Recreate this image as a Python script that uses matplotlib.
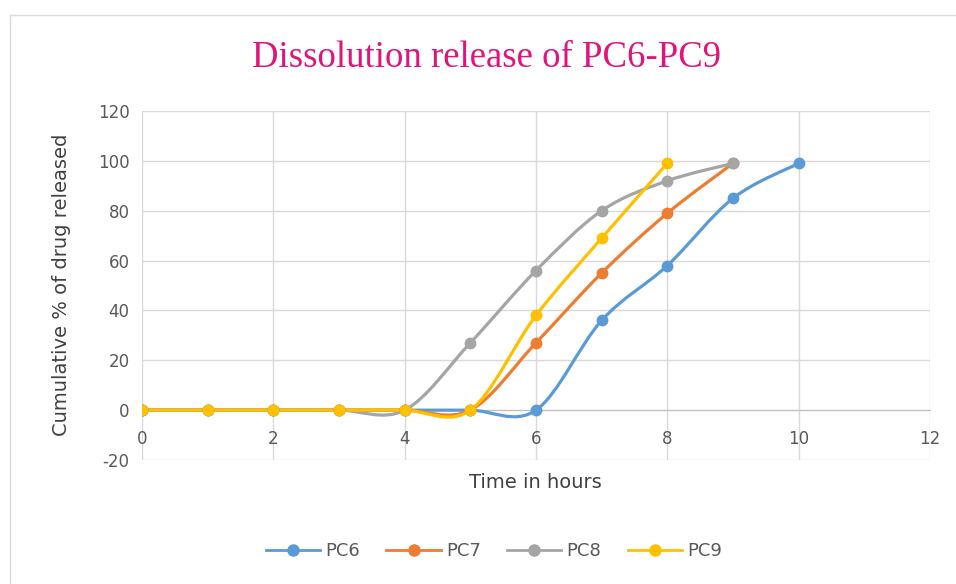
import numpy as np
import matplotlib.pyplot as plt
import matplotlib
from matplotlib.path import Path
from matplotlib.patches import PathPatch, Rectangle
from matplotlib.lines import Line2D

plt.rcParams["axes.unicode_minus"] = False

# hours and cumulative release
hours_pc6 = [0, 1, 2, 3, 4, 5, 6, 7, 8, 9, 10]
pc6 = [0, 0, 0, 0, 0, 0, 0, 36, 58, 85, 99]
hours_pc7 = [0, 1, 2, 3, 4, 5, 6, 7, 8, 9]
pc7 = [0, 0, 0, 0, 0, 0, 27, 55, 79, 99]
hours_pc8 = [0, 1, 2, 3, 4, 5, 6, 7, 8, 9]
pc8 = [0, 0, 0, 0, 0, 27, 56, 80, 92, 99]
hours_pc9 = [0, 1, 2, 3, 4, 5, 6, 7, 8]
pc9 = [0, 0, 0, 0, 0, 0, 38, 69, 99]

names = ["PC6", "PC7", "PC8", "PC9"]
colors = ["#5B9BD5", "#ED7D31", "#A5A5A5", "#FFC000"]
x_ticks = [0, 2, 4, 6, 8, 10, 12]
y_ticks = [-20, 0, 20, 40, 60, 80, 100, 120]


def smooth_path(xs, ys):
    # excel style smoothed line: bezier segments with 1/6 tangents
    p = np.column_stack([xs, ys]).astype(float)
    p = np.vstack([p[0], p, p[-1]])
    verts = [p[1]]
    codes = [Path.MOVETO]
    for i in range(1, len(p) - 2):
        c1 = p[i] + (p[i + 1] - p[i - 1]) / 6
        c2 = p[i + 1] - (p[i + 2] - p[i]) / 6
        verts += [c1, c2, p[i + 1]]
        codes += [Path.CURVE4] * 3
    return Path(verts, codes)


fig = plt.figure(figsize=(9.56, 5.84), dpi=100)
fig.patches.append(Rectangle((10 / 956, -0.1), 1.1, 1 - 15 / 584 + 0.1,
                             transform=fig.transFigure, fill=False,
                             edgecolor="#d9d9d9", lw=1))
ax = fig.add_axes([142 / 956, 1 - 460 / 584, 788 / 956, 349 / 584])

series = [(hours_pc6, pc6), (hours_pc7, pc7), (hours_pc8, pc8), (hours_pc9, pc9)]
for (xs, ys), c in zip(series, colors):
    ax.add_patch(PathPatch(smooth_path(xs, ys), facecolor="none", edgecolor=c,
                           lw=2.3, zorder=3, capstyle="round"))
    ax.plot(xs, ys, ls="none", marker="o", ms=7.5, color=c, zorder=4)

ax.set_xlim(0, 12)
ax.set_ylim(-20, 120)
ax.set_xticks(x_ticks)
ax.set_yticks(y_ticks)
ax.grid(True, color="#d9d9d9", lw=1)
ax.set_axisbelow(True)
for s in ["top", "right", "left"]:
    ax.spines[s].set_visible(False)
ax.spines["bottom"].set_position(("data", 0))
ax.spines["bottom"].set_color("#bfbfbf")
ax.tick_params(length=0, labelsize=12, labelcolor="#595959")
ax.tick_params(axis="y", pad=9)
ax.tick_params(axis="x", pad=14)

fig.text(535 / 956, 1 - 483 / 584, "Time in hours", ha="center", va="center",
         fontsize=14, color="#404040")
fig.text(62 / 956, 1 - 285 / 584, "Cumulative % of drug released", rotation=90,
         ha="center", va="center", fontsize=14, color="#404040")
fig.text(487 / 956, 1 - 58 / 584, "Dissolution release of PC6-PC9", ha="center",
         va="center", fontsize=26.5, color="#E0157A", family="Liberation Serif")

handles = [Line2D([], [], color=c, lw=2.0, marker="o", ms=8) for c in colors]
fig.legend(handles, names, loc="center", bbox_to_anchor=(494 / 956, 1 - 551 / 584),
           ncol=4, frameon=False, fontsize=13, handlelength=3.0, handletextpad=0.3,
           columnspacing=1.45, labelcolor="#595959")

fig.savefig("out.png", dpi=100)
